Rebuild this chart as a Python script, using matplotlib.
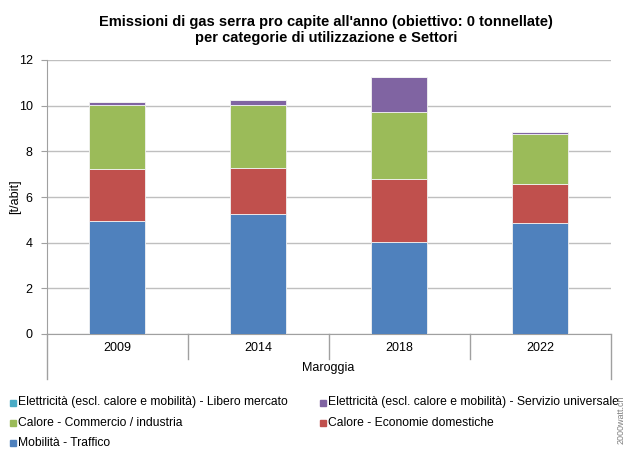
import matplotlib
matplotlib.use("Agg")
import matplotlib.pyplot as plt
from matplotlib.patches import Rectangle
from matplotlib.lines import Line2D
import numpy as np

plt.rcParams['font.family'] = ['Liberation Sans', 'DejaVu Sans']

years = ["2009", "2014", "2018", "2022"]
group_label = "Maroggia"
mobilita = [4.94, 5.24, 4.04, 4.88]
calore_dom = [2.29, 2.05, 2.75, 1.70]
calore_comm = [2.80, 2.74, 2.92, 2.18]
elett_servizio = [0.14, 0.22, 1.53, 0.07]
elett_libero = [0.0, 0.0, 0.0, 0.0]

series = [
    ("Mobilità - Traffico", mobilita, "#4F81BD"),
    ("Calore - Economie domestiche", calore_dom, "#C0504D"),
    ("Calore - Commercio / industria", calore_comm, "#9BBB59"),
    ("Elettricità (escl. calore e mobilità) - Servizio universale", elett_servizio, "#8064A2"),
    ("Elettricità (escl. calore e mobilità) - Libero mercato", elett_libero, "#4BACC6"),
]

W, H = 624, 449
fig = plt.figure(figsize=(W / 100, H / 100), dpi=100)
ax = fig.add_axes([46.5 / W, 1 - 334 / H, (610.5 - 46.5) / W, (334 - 60) / H])

x = np.arange(len(years))
bottom = np.zeros(len(years))
for name, vals, col in series:
    v = np.array(vals)
    ax.bar(x, v, width=0.4, bottom=bottom, color=col, edgecolor="#f2f2f2", linewidth=0.6, zorder=3)
    bottom += v

ax.set_xlim(-0.5, len(years) - 0.5)
ax.set_ylim(0, 12)
ax.set_yticks(np.arange(0, 13, 2))
ax.yaxis.grid(True, color="#bfbfbf", linewidth=1.0, zorder=0)
ax.set_axisbelow(True)
for s in ["top", "right"]:
    ax.spines[s].set_visible(False)
ax.spines["left"].set_color("#a0a0a0")
ax.spines["bottom"].set_color("#a0a0a0")
ax.tick_params(axis="y", length=4, color="#a0a0a0", labelsize=9, pad=6)
ax.set_xticks([])

fig.text(15 / W, 1 - 197 / H, "[t/abit]", rotation=90, ha="center", va="center", fontsize=9)

# category labels and separators
for i, y in enumerate(years):
    ax.text(i, -0.6, y, ha="center", va="center", fontsize=9, clip_on=False)
ax.text((len(years) - 1) / 2, -1.5, group_label, ha="center", va="center", fontsize=9, clip_on=False)
for b in np.arange(-0.5, len(years), 1.0):
    low = -1.95 if b in (-0.5, len(years) - 0.5) else -1.1
    ax.add_line(Line2D([b, b], [0, low], color="#a0a0a0", linewidth=1.0, clip_on=False))

fig.text(326 / W, 1 - 30 / H,
         "Emissioni di gas serra pro capite all'anno (obiettivo: 0 tonnellate)\nper categorie di utilizzazione e Settori",
         ha="center", va="center", fontsize=10.5, fontweight="bold", linespacing=1.15)

# legend
leg_items = [
    (10, 402.5, series[4]), (320.5, 402.5, series[3]),
    (10, 422.5, series[2]), (320.5, 422.5, series[1]),
    (10, 442.5, series[0]),
]
for px, py, (name, vals, col) in leg_items:
    fig.add_artist(Rectangle((px / W, 1 - (py + 3) / H), 6 / W, 6 / H, color=col, transform=fig.transFigure))
    fig.text((px + 7.8) / W, 1 - py / H, name, ha="left", va="center", fontsize=8.75)

fig.text(621 / W, 1 - 420 / H, "2000watt.ch", rotation=90, ha="center", va="center", fontsize=6.5, color="#808080")

fig.savefig("out.png", dpi=100)
